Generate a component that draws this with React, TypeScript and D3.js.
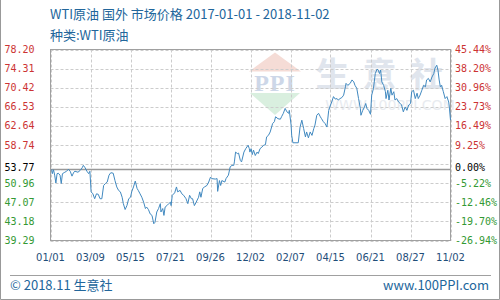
import React from "react";
import * as d3 from "d3";

// days since 2017-01-01
const days = [
  2, 3, 5, 7, 9, 11, 13, 16, 18, 20, 24, 27, 30, 33, 36, 39, 41, 46, 50, 53,
  55, 58, 61, 64, 66, 68, 71, 74, 77, 80, 83, 86, 89, 92, 95, 98, 101, 105, 108, 111,
  114, 117, 120, 122, 125, 128, 131, 134, 136, 139, 142, 145, 147, 150, 153, 156, 159, 161, 164, 167,
  170, 173, 175, 178, 181, 184, 185, 188, 190, 192, 195, 198, 201, 202, 204, 208, 211, 213, 217, 220,
  223, 227, 230, 233, 236, 238, 241, 244, 248, 250, 252, 255, 258, 262, 265, 268, 270, 276, 279, 280,
  283, 285, 287, 292, 294, 298, 301, 304, 307, 308, 310, 313, 315, 318, 320, 322, 324, 327, 331, 333,
  334, 336, 338, 340, 343, 346, 348, 351, 354, 357, 360, 362, 365, 368, 372, 375, 377, 381, 385, 387,
  390, 393, 396, 399, 400, 403, 404, 406, 415, 418, 421, 424, 427, 429, 432, 435, 438, 441, 443, 446,
  449, 452, 454, 457, 460, 463, 466, 469, 471, 474, 477, 480, 482, 485, 488, 491, 494, 495, 498, 502,
  505, 508, 510, 513, 516, 519, 520, 523, 526, 528, 530, 533, 536, 538, 541, 544, 547, 549, 551, 553,
  555, 558, 561, 562, 565, 567, 570, 572, 575, 577, 580, 583, 586, 588, 591, 594, 597, 600, 603, 605,
  608, 611, 614, 616, 619, 622, 625, 628, 630, 633, 636, 639, 642, 644, 647, 649, 651, 653, 655, 658,
  661, 664, 667, 668, 670,
];

const prices = [
  53.77, 52.9, 53.7, 52.6, 51.0, 52.9, 53.0, 52.6, 50.9, 52.9, 53.2, 53.4, 53.8, 53.4, 52.4, 53.2, 53.4, 53.2, 53.6, 54.1,
  54.6, 54.1, 53.4, 52.9, 53.4, 49.2, 48.8, 47.8, 48.8, 48.7, 47.8, 47.8, 50.5, 50.9, 51.2, 52.6, 53.1, 53.0, 51.5, 50.2,
  49.5, 49.2, 48.1, 46.8, 45.6, 46.4, 47.8, 48.1, 49.2, 50.2, 51.4, 49.9, 49.5, 48.8, 48.1, 47.1, 45.8, 46.1, 45.6, 44.7,
  44.4, 42.7, 43.0, 45.1, 45.8, 46.8, 45.1, 45.8, 44.4, 46.1, 46.4, 46.8, 47.1, 46.4, 48.5, 49.0, 50.2, 49.2, 49.5, 48.8,
  48.5, 47.8, 46.8, 48.5, 47.8, 47.8, 46.4, 47.1, 48.1, 49.2, 48.1, 49.9, 50.2, 50.5, 51.2, 52.2, 51.9, 51.8, 51.9, 49.3,
  51.5, 50.5, 51.5, 51.2, 51.9, 52.6, 54.3, 54.6, 54.6, 55.3, 57.3, 57.0, 57.1, 55.6, 55.3, 56.3, 57.3, 58.0, 58.7, 58.0,
  57.3, 58.0, 56.8, 57.7, 56.6, 57.3, 57.0, 58.0, 58.3, 58.7, 58.8, 60.4, 60.7, 61.4, 63.1, 63.5, 64.5, 64.1, 64.0, 64.5,
  65.2, 66.2, 65.5, 65.2, 65.8, 62.8, 60.7, 59.2, 59.2, 62.4, 63.8, 62.1, 60.4, 61.4, 60.2, 61.4, 60.7, 62.1, 62.8, 64.8,
  65.2, 64.5, 64.1, 63.5, 63.1, 62.4, 65.8, 66.9, 67.5, 68.6, 68.1, 68.2, 67.9, 68.2, 68.4, 68.9, 70.6, 71.3, 70.9, 71.3,
  72.0, 71.6, 70.9, 70.3, 68.2, 66.2, 64.8, 65.8, 66.5, 67.2, 66.2, 65.8, 65.0, 68.9, 70.3, 73.3, 74.2, 74.0, 73.3, 74.0,
  71.6, 70.9, 69.6, 68.2, 69.9, 67.9, 70.3, 68.9, 69.6, 67.9, 68.2, 67.5, 67.2, 66.9, 65.5, 66.5, 65.8, 66.9, 67.2, 69.6,
  69.9, 68.2, 69.3, 68.2, 68.9, 69.9, 70.9, 70.6, 72.0, 72.3, 71.6, 72.6, 73.3, 74.4, 75.0, 74.0, 72.0, 70.6, 70.9, 69.6,
  68.2, 68.6, 67.5, 66.5, 63.8,
];

const basePrice = 53.77;
const yMin = 39.29;
const yMax = 78.2;
const leftLabels = ["78.20", "74.31", "70.42", "66.53", "62.64", "58.74", "", "50.96", "47.07", "43.18", "39.29"];
const rightLabels = ["45.44%", "38.20%", "30.96%", "23.73%", "16.49%", "9.25%", "", "-5.22%", "-12.46%", "-19.70%", "-26.94%"];
const baseLeftLabel = "53.77";
const baseRightLabel = "0.00%";
const tickDates = [
  "2017-01-01", "2017-03-09", "2017-05-15", "2017-07-21", "2017-09-26", "2017-12-02",
  "2018-02-07", "2018-04-15", "2018-06-21", "2018-08-27", "2018-11-02",
];
const tickLabels = ["01/01", "03/09", "05/15", "07/21", "09/26", "12/02", "02/07", "04/15", "06/21", "08/27", "11/02"];

const title = "WTI原油 国外 市场价格 2017-01-01 - 2018-11-02";
const subtitle = "种类:WTI原油";
const footerLeft = "© 2018.11 生意社";
const footerRight = "www.100PPI.com";

export default function App() {
  const W = 500, H = 300;
  const L = 50.5, R = 450.5, T = 49.5, B = 240.5;
  const parse = d3.timeParse("%Y-%m-%d");
  const start = parse("2017-01-01") as Date;
  const end = parse("2018-11-02") as Date;
  const x = d3.scaleTime().domain([start, end]).range([L, R]);
  const y = d3.scaleLinear().domain([yMin, yMax]).range([B, T]);
  const step = (yMax - yMin) / 10;
  const gridVals = d3.range(11).map((i) => yMax - i * step);
  const data = days.map((d, i) => ({ date: d3.timeDay.offset(start, d), v: prices[i] }));
  const line = d3
    .line<{ date: Date; v: number }>()
    .x((d) => x(d.date))
    .y((d) => y(d.v));

  const blue = "#22669b";
  const red = "#cc3333";
  const green = "#339933";
  const mono = "'DejaVu Sans Mono', monospace";
  const cjk = "'Noto Sans CJK SC', 'Noto Sans', sans-serif";
  const baseY = y(basePrice);

  return (
    <svg width={W} height={H} style={{ position: "absolute", left: 0, top: 0, background: "#fff" }}>
      <rect x={0} y={0} width={W} height={H} fill="#fff" />
      <path d={`M0.5,0V299.5H499.5V0`} fill="none" stroke="#999" />
      <text x={50} y={19} fontFamily={cjk} fontSize={13} fill={blue}>{title}</text>
      <text x={50} y={40} fontFamily={cjk} fontSize={13} fill={blue}>{subtitle}</text>

      {/* watermark */}
      <g>
        <path d="M275,52.5 L301,71.5 L249,71.5 Z" fill="#f5dcd6" />
        <text x={275} y={91} textAnchor="middle" fontFamily="'Liberation Serif', serif" fontWeight="bold" fontSize={24} letterSpacing={1} fill="#cdd7e8">PPI</text>
        <path d="M250,93 L300,93 L275,115 Z" fill="#d9efdf" />
        <text x={386} y={87} textAnchor="middle" fontFamily={cjk} fontWeight="bold" fontSize={34} letterSpacing={13} fill="#e0e5ed">生意社</text>
        <text x={390} y={110} textAnchor="middle" fontFamily="'DejaVu Sans', sans-serif" fontSize={14} fill="#e8ebf0">WWW.100PPI.COM</text>
      </g>

      {/* horizontal grid */}
      {gridVals.map((v, i) => (
        <line key={"h" + i} x1={L} x2={R} y1={Math.round(y(v)) + 0.5} y2={Math.round(y(v)) + 0.5} stroke="#cccccc" strokeDasharray="3,2" />
      ))}
      {tickDates.map((t, i) => {
        const xx = Math.round(x(parse(t) as Date)) + 0.5;
        return <line key={"v" + i} x1={xx} x2={xx} y1={T} y2={B} stroke="#cccccc" strokeDasharray="3,2" />;
      })}
      <line x1={L} x2={R} y1={Math.round(baseY) + 0.5} y2={Math.round(baseY) + 0.5} stroke="#999" strokeWidth={1.5} />
      <rect x={L} y={T} width={R - L} height={B - T} fill="none" stroke="#a0a0a0" />

      <path d={line(data) || ""} fill="none" stroke="#4189c0" strokeWidth={1} strokeLinejoin="miter" />

      {/* left/right labels */}
      {gridVals.map((v, i) =>
        leftLabels[i] ? (
          <text key={"l" + i} x={34.5} y={y(v) + 3.5} textAnchor="end" fontFamily={mono} fontSize={10} fill={v > basePrice ? red : green}>{leftLabels[i]}</text>
        ) : null
      )}
      {gridVals.map((v, i) =>
        rightLabels[i] ? (
          <text key={"r" + i} x={455} y={y(v) + 3.5} fontFamily={mono} fontSize={10} fill={v > basePrice ? red : green}>{rightLabels[i]}</text>
        ) : null
      )}
      <text x={34.5} y={baseY + 2} textAnchor="end" fontFamily={mono} fontSize={10} fill="#000">{baseLeftLabel}</text>
      <text x={455} y={baseY + 2} fontFamily={mono} fontSize={10} fill="#000">{baseRightLabel}</text>

      {tickDates.map((t, i) => (
        <text key={"t" + i} x={x(parse(t) as Date)} y={261} textAnchor="middle" fontFamily="'DejaVu Sans', sans-serif" fontSize={10} fill="#1f4e79">{tickLabels[i]}</text>
      ))}

      <line x1={10} x2={491} y1={275.5} y2={275.5} stroke="#a0a0a0" />
      <text x={10} y={290} fontFamily={cjk} fontSize={13} fill={blue}>{footerLeft}</text>
      <text x={489} y={290} textAnchor="end" fontFamily={cjk} fontSize={13} fill={blue}>{footerRight}</text>
    </svg>
  );
}
